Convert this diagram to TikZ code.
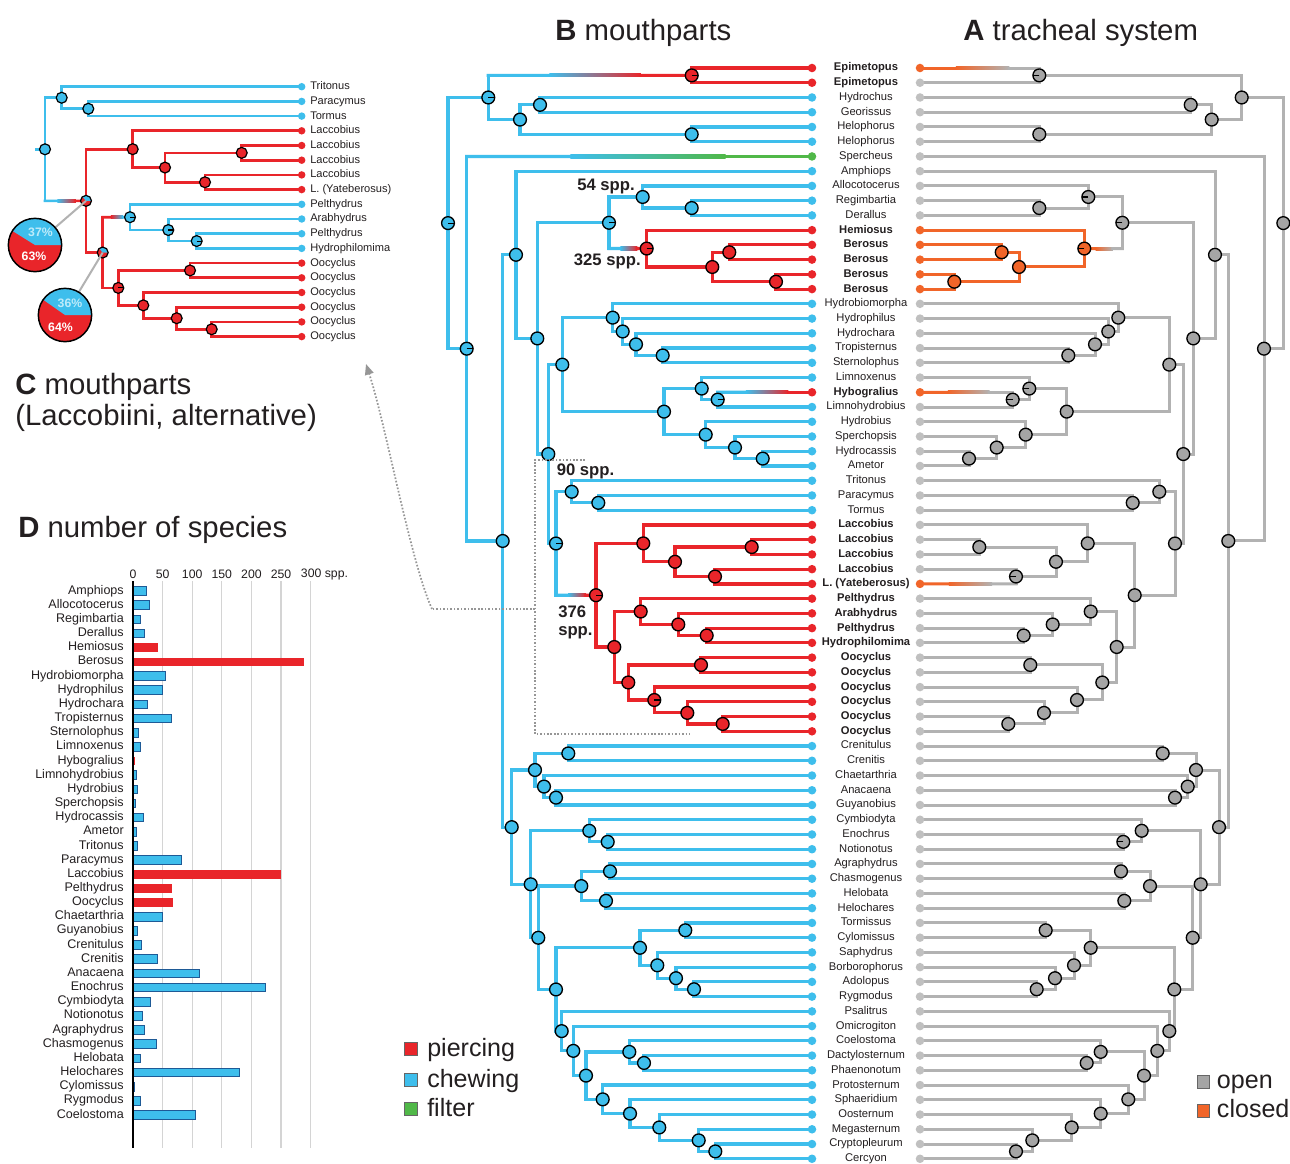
\documentclass[tikz,border=0pt]{standalone}
\usepackage{fontspec}
\setmainfont{Liberation Sans}
\usetikzlibrary{calc,arrows.meta}
\definecolor{cblue}{RGB}{62,190,236}
\definecolor{cred}{RGB}{233,37,42}
\definecolor{cgreen}{RGB}{80,184,72}
\definecolor{cgrey}{RGB}{178,178,178}
\definecolor{cgreyn}{RGB}{165,165,165}
\definecolor{cgreyl}{RGB}{192,192,192}
\definecolor{corange}{RGB}{241,101,41}
\definecolor{ctext}{RGB}{35,31,32}
\definecolor{cbarline}{RGB}{30,90,150}
\definecolor{cgrid}{RGB}{212,212,212}
\definecolor{cdot}{RGB}{150,150,150}
\definecolor{cpale}{RGB}{190,235,250}
\newcommand\IN[4]{%
  \coordinate (tmpm) at ($(#3)!0.5!(#4)$);
  \coordinate (tmpx) at (#2,0);
  \coordinate (#1) at (tmpx |- tmpm);}
\newcommand\INd[5]{\IN{#1}{#2}{#3}{#4}\draw[#5] (#3) -| (#1) |- (#4);}
\newcommand\VB[4]{\draw[#1] (#2 |- #3) -- (#2 |- #4);}
\newcommand\HB[3]{\draw[#1] (#2 |- #3) -- (#3);}
\newcommand\GSEG[6]{%
  \draw[#5,#3] (#1) -- ($(#1)!0.3!(#2)$);
  \shade[left color=#3,right color=#4] ($(#1)!0.3!(#2)+(0,#6)$) rectangle ($(#1)!0.75!(#2)+(0,-#6)$);
  \draw[#5,#4] ($(#1)!0.75!(#2)$) -- (#2);}
\def\leaflist{1/Epimetopus/1/cred/corange, 2/Epimetopus/1/cred/cgreyl, 3/Hydrochus/0/cblue/cgreyl,
 4/Georissus/0/cblue/cgreyl, 5/Helophorus/0/cblue/cgreyl, 6/Helophorus/0/cblue/cgreyl,
 7/Spercheus/0/cgreen/cgreyl, 8/Amphiops/0/cblue/cgreyl, 9/Allocotocerus/0/cblue/cgreyl,
 10/Regimbartia/0/cblue/cgreyl, 11/Derallus/0/cblue/cgreyl, 12/Hemiosus/1/cred/corange,
 13/Berosus/1/cred/corange, 14/Berosus/1/cred/corange, 15/Berosus/1/cred/corange, 16/Berosus/1/cred/corange,
 17/Hydrobiomorpha/0/cblue/cgreyl, 18/Hydrophilus/0/cblue/cgreyl, 19/Hydrochara/0/cblue/cgreyl,
 20/Tropisternus/0/cblue/cgreyl, 21/Sternolophus/0/cblue/cgreyl, 22/Limnoxenus/0/cblue/cgreyl,
 23/Hybogralius/1/cred/corange, 24/Limnohydrobius/0/cblue/cgreyl, 25/Hydrobius/0/cblue/cgreyl,
 26/Sperchopsis/0/cblue/cgreyl, 27/Hydrocassis/0/cblue/cgreyl, 28/Ametor/0/cblue/cgreyl,
 29/Tritonus/0/cblue/cgreyl, 30/Paracymus/0/cblue/cgreyl, 31/Tormus/0/cblue/cgreyl,
 32/Laccobius/1/cred/cgreyl, 33/Laccobius/1/cred/cgreyl, 34/Laccobius/1/cred/cgreyl, 35/Laccobius/1/cred/cgreyl,
 36/L. (Yateberosus)/1/cred/corange, 37/Pelthydrus/1/cred/cgreyl, 38/Arabhydrus/1/cred/cgreyl,
 39/Pelthydrus/1/cred/cgreyl, 40/Hydrophilomima/1/cred/cgreyl, 41/Oocyclus/1/cred/cgreyl,
 42/Oocyclus/1/cred/cgreyl, 43/Oocyclus/1/cred/cgreyl, 44/Oocyclus/1/cred/cgreyl, 45/Oocyclus/1/cred/cgreyl,
 46/Oocyclus/1/cred/cgreyl, 47/Crenitulus/0/cblue/cgreyl, 48/Crenitis/0/cblue/cgreyl,
 49/Chaetarthria/0/cblue/cgreyl, 50/Anacaena/0/cblue/cgreyl, 51/Guyanobius/0/cblue/cgreyl,
 52/Cymbiodyta/0/cblue/cgreyl, 53/Enochrus/0/cblue/cgreyl, 54/Notionotus/0/cblue/cgreyl,
 55/Agraphydrus/0/cblue/cgreyl, 56/Chasmogenus/0/cblue/cgreyl, 57/Helobata/0/cblue/cgreyl,
 58/Helochares/0/cblue/cgreyl, 59/Tormissus/0/cblue/cgreyl, 60/Cylomissus/0/cblue/cgreyl,
 61/Saphydrus/0/cblue/cgreyl, 62/Borborophorus/0/cblue/cgreyl, 63/Adolopus/0/cblue/cgreyl,
 64/Rygmodus/0/cblue/cgreyl, 65/Psalitrus/0/cblue/cgreyl, 66/Omicrogiton/0/cblue/cgreyl,
 67/Coelostoma/0/cblue/cgreyl, 68/Dactylosternum/0/cblue/cgreyl, 69/Phaenonotum/0/cblue/cgreyl,
 70/Protosternum/0/cblue/cgreyl, 71/Sphaeridium/0/cblue/cgreyl, 72/Oosternum/0/cblue/cgreyl,
 73/Megasternum/0/cblue/cgreyl, 74/Cryptopleurum/0/cblue/cgreyl, 75/Cercyon/0/cblue/cgreyl}
\def\clist{1/Tritonus/cblue, 2/Paracymus/cblue, 3/Tormus/cblue, 4/Laccobius/cred, 5/Laccobius/cred,
 6/Laccobius/cred, 7/Laccobius/cred, 8/L. (Yateberosus)/cred, 9/Pelthydrus/cblue, 10/Arabhydrus/cblue,
 11/Pelthydrus/cblue, 12/Hydrophilomima/cblue, 13/Oocyclus/cred, 14/Oocyclus/cred, 15/Oocyclus/cred,
 16/Oocyclus/cred, 17/Oocyclus/cred, 18/Oocyclus/cred}
\def\dlist{1/Amphiops/22.5/b, 2/Allocotocerus/28/b, 3/Regimbartia/12/b, 4/Derallus/18.6/b,
 5/Hemiosus/41.6/r, 6/Berosus/289/r, 7/Hydrobiomorpha/54.6/b, 8/Hydrophilus/49.5/b, 9/Hydrochara/24.2/b,
 10/Tropisternus/64.7/b, 11/Sternolophus/9/b, 12/Limnoxenus/12.4/b, 13/Hybogralius/3.4/r,
 14/Limnohydrobius/5/b, 15/Hydrobius/7.3/b, 16/Sperchopsis/3.4/b, 17/Hydrocassis/17.4/b,
 18/Ametor/6.2/b, 19/Tritonus/7.9/b, 20/Paracymus/82.2/b, 21/Laccobius/249.3/r, 22/Pelthydrus/65.3/r,
 23/Oocyclus/67.5/r, 24/Chaetarthria/49.5/b, 25/Guyanobius/6.8/b, 26/Crenitulus/14.6/b,
 27/Crenitis/41.6/b, 28/Anacaena/112/b, 29/Enochrus/224/b, 30/Cymbiodyta/29.8/b, 31/Notionotus/16.3/b,
 32/Agraphydrus/19.1/b, 33/Chasmogenus/39.4/b, 34/Helobata/12.4/b, 35/Helochares/179.5/b,
 36/Cylomissus/2.8/b, 37/Rygmodus/12.4/b, 38/Coelostoma/105.8/b}
\begin{document}
\begin{tikzpicture}[x=0.75pt,y=-0.75pt,
  lB/.style={line width=2.4pt,line cap=rect},
  lA/.style={line width=2.25pt,line cap=rect},
  lC/.style={line width=2pt,line cap=rect},
  nd/.style={circle,draw=black,line width=1pt,minimum size=9.6pt,inner sep=0pt},
  ndC/.style={circle,draw=black,line width=0.9pt,minimum size=8.2pt,inner sep=0pt},
  dR/.style={path picture={\draw[line width=0.8pt] (path picture bounding box.center) -- (path picture bounding box.east);}},
  dL/.style={path picture={\draw[line width=0.8pt] (path picture bounding box.center) -- (path picture bounding box.west);}},
  leaf/.style={circle,minimum size=6.4pt,inner sep=0pt},
  leafC/.style={circle,minimum size=5.6pt,inner sep=0pt},
  lab/.style={font=\fontsize{8.4}{10}\selectfont,text=ctext,inner sep=0pt,text height=6pt,text depth=1.6pt},
  labC/.style={font=\fontsize{8.3}{10}\selectfont,text=ctext,anchor=west,inner sep=0pt,text height=6pt,text depth=1.6pt},
  ttl/.style={font=\fontsize{22}{26}\selectfont,text=ctext,anchor=base west,inner sep=0pt},
  leg/.style={font=\fontsize{18.8}{22}\selectfont,text=ctext,anchor=base west,inner sep=0pt},
  spp/.style={font=\bfseries\fontsize{12.5}{14}\selectfont,text=ctext,inner sep=0pt},
  dlab/.style={font=\fontsize{9.4}{10}\selectfont,text=ctext,anchor=east,inner sep=0pt,text height=6.6pt,text depth=1.9pt},
  tick/.style={font=\fontsize{9.2}{10}\selectfont,text=ctext,inner sep=0pt},
  pct/.style={font=\bfseries\fontsize{9.2}{10}\selectfont,inner sep=0pt},
  sq/.style={minimum size=9.5pt,inner sep=0pt,draw=black!60,line width=0.5pt},
  barb/.style={fill=cblue,draw=cbarline,line width=0.6pt},
  barr/.style={fill=cred},
  dots/.style={cdot,line width=1.3pt,dash pattern=on 1.2pt off 1.4pt}]
\useasboundingbox (0,0) rectangle (1290,1164);
\fill[white] (0,0) rectangle (1290,1164);
% ---------- leaves and labels (trees A, B)
\foreach \i/\nm/\bb/\cb/\ca in \leaflist {
  \coordinate (b\i) at (812,{68+(\i-1)*14.74});
  \coordinate (a\i) at (920,{68+(\i-1)*14.74});
  \node[lab] (t\i) at (866,{68+(\i-1)*14.74}) {\ifnum\bb=1 \bfseries\fi\nm};
}
\foreach \i/\nm/\cc in \clist {
  \coordinate (c\i) at (301.7,{86.7+(\i-1)*14.7});
  \node[labC] (tc\i) at (310,{86.7+(\i-1)*14.7}) {\nm};
}
% ---------- tree B (mouthparts)
\INd{BE}{691.7}{b1}{b2}{lB,cred}
\INd{BHG}{540}{b3}{b4}{lB,cblue}
\INd{BHe}{691.7}{b5}{b6}{lB,cblue}
\INd{BHGH}{520}{BHG}{BHe}{lB,cblue}
\IN{BTop}{488.3}{BE}{BHGH}
\VB{lB,cblue}{BTop}{BE}{BHGH}
\HB{lB,cblue}{BTop}{BHGH}
\coordinate (g1) at (BTop |- BE);
\GSEG{g1}{BE}{cblue}{cred}{lB}{1.6}
\INd{BRD}{691.7}{b10}{b11}{lB,cblue}
\INd{BAl}{642.7}{b9}{BRD}{lB,cblue}
\INd{BB3}{729.3}{b13}{b14}{lB,cred}
\INd{BB4}{776}{b15}{b16}{lB,cred}
\INd{BB2}{712.3}{BB3}{BB4}{lB,cred}
\INd{BBe}{646.7}{b12}{BB2}{lB,cred}
\IN{BBG}{609}{BAl}{BBe}
\VB{lB,cblue}{BBG}{BAl}{BBe}
\HB{lB,cblue}{BBG}{BAl}
\coordinate (g2) at (BBG |- BBe);
\GSEG{g2}{BBe}{cblue}{cred}{lB}{1.6}
\INd{BTr}{662.7}{b20}{b21}{lB,cblue}
\INd{BCh}{636}{b19}{BTr}{lB,cblue}
\INd{BHp}{622.7}{b18}{BCh}{lB,cblue}
\INd{BHm}{612.7}{b17}{BHp}{lB,cblue}
\IN{BHy}{717.7}{b23}{b24}
\VB{lB,cblue}{BHy}{b23}{b24}
\HB{lB,cblue}{BHy}{b24}
\coordinate (g3) at (BHy |- b23);
\GSEG{g3}{b23}{cblue}{cred}{lB}{1.6}
\INd{BLx}{701.7}{b22}{BHy}{lB,cblue}
\INd{BHc}{762.7}{b27}{b28}{lB,cblue}
\INd{BSp}{735}{b26}{BHc}{lB,cblue}
\INd{BHb}{705.7}{b25}{BSp}{lB,cblue}
\INd{BLH}{664}{BLx}{BHb}{lB,cblue}
\INd{BHyd}{562.3}{BHm}{BLH}{lB,cblue}
\INd{BPT}{598.3}{b30}{b31}{lB,cblue}
\INd{BTri}{571.7}{b29}{BPT}{lB,cblue}
\INd{BL34}{751.7}{b33}{b34}{lB,cred}
\INd{BL5Y}{715}{b35}{b36}{lB,cred}
\INd{BL2}{675}{BL34}{BL5Y}{lB,cred}
\INd{BLac}{643.3}{b32}{BL2}{lB,cred}
\INd{BP4}{706.7}{b39}{b40}{lB,cred}
\INd{BP3}{678.3}{b38}{BP4}{lB,cred}
\INd{BPe}{640.7}{b37}{BP3}{lB,cred}
\INd{BO12}{701}{b41}{b42}{lB,cred}
\INd{BO56}{722.7}{b45}{b46}{lB,cred}
\INd{BO4}{687.3}{b44}{BO56}{lB,cred}
\INd{BO3}{654.3}{b43}{BO4}{lB,cred}
\INd{BOo}{628.3}{BO12}{BO3}{lB,cred}
\INd{BPO}{614.3}{BPe}{BOo}{lB,cred}
\INd{BLc}{596}{BLac}{BPO}{lB,cred}
\IN{BTL}{556}{BTri}{BLc}
\VB{lB,cblue}{BTL}{BTri}{BLc}
\HB{lB,cblue}{BTL}{BTri}
\coordinate (g4) at (BTL |- BLc);
\GSEG{g4}{BLc}{cblue}{cred}{lB}{1.6}
\INd{BW}{548.3}{BHyd}{BTL}{lB,cblue}
\INd{BZ}{537.3}{BBG}{BW}{lB,cblue}
\INd{BY}{516}{b8}{BZ}{lB,cblue}
\INd{BCC}{568.3}{b47}{b48}{lB,cblue}
\INd{BAG}{556}{b50}{b51}{lB,cblue}
\INd{BCA}{544}{b49}{BAG}{lB,cblue}
\INd{BAn}{535}{BCC}{BCA}{lB,cblue}
\INd{BEN}{607.7}{b53}{b54}{lB,cblue}
\INd{BEn}{589.3}{b52}{BEN}{lB,cblue}
\INd{BAC}{610}{b55}{b56}{lB,cblue}
\INd{BHH}{606}{b57}{b58}{lB,cblue}
\INd{BAgr}{581.3}{BAC}{BHH}{lB,cblue}
\INd{BTC}{685.3}{b59}{b60}{lB,cblue}
\INd{BAR}{694}{b63}{b64}{lB,cblue}
\INd{BBR}{676}{b62}{BAR}{lB,cblue}
\INd{BSa}{657.3}{b61}{BBR}{lB,cblue}
\INd{BTo}{640}{BTC}{BSa}{lB,cblue}
\INd{BDP}{644}{b68}{b69}{lB,cblue}
\INd{BCo}{629.3}{b67}{BDP}{lB,cblue}
\INd{BCC2}{715.3}{b74}{b75}{lB,cblue}
\INd{BMe}{698.7}{b73}{BCC2}{lB,cblue}
\INd{BOs}{659.3}{b72}{BMe}{lB,cblue}
\INd{BSph}{630}{b71}{BOs}{lB,cblue}
\INd{BPr}{602.7}{b70}{BSph}{lB,cblue}
\INd{BS1}{586}{BCo}{BPr}{lB,cblue}
\INd{BS2}{573.3}{b66}{BS1}{lB,cblue}
\INd{BS3}{561.7}{b65}{BS2}{lB,cblue}
\INd{BS4}{556}{BTo}{BS3}{lB,cblue}
\INd{BS5}{538.3}{BAgr}{BS4}{lB,cblue}
\INd{BS6}{530.7}{BEn}{BS5}{lB,cblue}
\INd{BLow}{511.7}{BAn}{BS6}{lB,cblue}
\INd{BX}{502.7}{BY}{BLow}{lB,cblue}
\IN{BRest}{466.7}{b7}{BX}
\VB{lB,cblue}{BRest}{b7}{BX}
\HB{lB,cblue}{BRest}{BX}
\coordinate (g5) at (BRest |- b7);
\GSEG{g5}{b7}{cblue}{cgreen}{lB}{1.6}
\INd{BRoot}{448}{BTop}{BRest}{lB,cblue}
% ---------- tree A (tracheal system)
\IN{AE}{1039.3}{a1}{a2}
\VB{lA,cgrey}{AE}{a1}{a2}
\HB{lA,cgrey}{AE}{a2}
\coordinate (g6) at (AE |- a1);
\GSEG{a1}{g6}{corange}{cgrey}{lA}{1.5}
\INd{AHG}{1190.7}{a3}{a4}{lA,cgrey}
\INd{AHe}{1039.3}{a5}{a6}{lA,cgrey}
\INd{AHGH}{1211.7}{AHG}{AHe}{lA,cgrey}
\INd{ATop}{1241.7}{AE}{AHGH}{lA,cgrey}
\INd{ARD}{1039.3}{a10}{a11}{lA,cgrey}
\INd{AAl}{1088.3}{a9}{ARD}{lA,cgrey}
\INd{AB3}{1001.7}{a13}{a14}{lA,corange}
\INd{AB4}{954.3}{a15}{a16}{lA,corange}
\INd{AB2}{1019}{AB3}{AB4}{lA,corange}
\INd{ABe}{1084.3}{a12}{AB2}{lA,corange}
\IN{ABG}{1122.3}{AAl}{ABe}
\VB{lA,cgrey}{ABG}{AAl}{ABe}
\HB{lA,cgrey}{ABG}{AAl}
\coordinate (g7) at (ABG |- ABe);
\GSEG{ABe}{g7}{corange}{cgrey}{lA}{1.5}
\INd{ATr}{1068.3}{a20}{a21}{lA,cgrey}
\INd{ACh}{1095}{a19}{ATr}{lA,cgrey}
\INd{AHp}{1108.3}{a18}{ACh}{lA,cgrey}
\INd{AHm}{1118.3}{a17}{AHp}{lA,cgrey}
\IN{AHy}{1012.7}{a23}{a24}
\VB{lA,cgrey}{AHy}{a23}{a24}
\HB{lA,cgrey}{AHy}{a24}
\coordinate (g8) at (AHy |- a23);
\GSEG{a23}{g8}{corange}{cgrey}{lA}{1.5}
\INd{ALx}{1029.3}{a22}{AHy}{lA,cgrey}
\INd{AHc}{969}{a27}{a28}{lA,cgrey}
\INd{ASp}{996.7}{a26}{AHc}{lA,cgrey}
\INd{AHb}{1025.7}{a25}{ASp}{lA,cgrey}
\INd{ALH}{1066.7}{ALx}{AHb}{lA,cgrey}
\INd{AHyd}{1169.3}{AHm}{ALH}{lA,cgrey}
\INd{APT}{1132.7}{a30}{a31}{lA,cgrey}
\INd{ATri}{1159.3}{a29}{APT}{lA,cgrey}
\INd{AL34}{979.3}{a33}{a34}{lA,cgrey}
\IN{AL5Y}{1016}{a35}{a36}
\VB{lA,cgrey}{AL5Y}{a35}{a36}
\HB{lA,cgrey}{AL5Y}{a35}
\coordinate (g9) at (AL5Y |- a36);
\GSEG{a36}{g9}{corange}{cgrey}{lA}{1.5}
\INd{AL2}{1056}{AL34}{AL5Y}{lA,cgrey}
\INd{ALac}{1087.7}{a32}{AL2}{lA,cgrey}
\INd{AP4}{1023.7}{a39}{a40}{lA,cgrey}
\INd{AP3}{1052.7}{a38}{AP4}{lA,cgrey}
\INd{APe}{1090.7}{a37}{AP3}{lA,cgrey}
\INd{AO12}{1030.3}{a41}{a42}{lA,cgrey}
\INd{AO56}{1008.3}{a45}{a46}{lA,cgrey}
\INd{AO4}{1044}{a44}{AO56}{lA,cgrey}
\INd{AO3}{1077}{a43}{AO4}{lA,cgrey}
\INd{AOo}{1102.3}{AO12}{AO3}{lA,cgrey}
\INd{APO}{1116.7}{APe}{AOo}{lA,cgrey}
\INd{ALc}{1134.7}{ALac}{APO}{lA,cgrey}
\INd{ATL}{1175}{ATri}{ALc}{lA,cgrey}
\INd{AW}{1183.3}{AHyd}{ATL}{lA,cgrey}
\INd{AZ}{1193.3}{ABG}{AW}{lA,cgrey}
\INd{AY}{1215}{a8}{AZ}{lA,cgrey}
\INd{ACC}{1162.7}{a47}{a48}{lA,cgrey}
\INd{AAG}{1175}{a50}{a51}{lA,cgrey}
\INd{ACA}{1187.7}{a49}{AAG}{lA,cgrey}
\INd{AAn}{1196}{ACC}{ACA}{lA,cgrey}
\INd{AEN}{1123.3}{a53}{a54}{lA,cgrey}
\INd{AEn}{1141.7}{a52}{AEN}{lA,cgrey}
\INd{AAC}{1121}{a55}{a56}{lA,cgrey}
\INd{AHH}{1124.3}{a57}{a58}{lA,cgrey}
\INd{AAgr}{1150}{AAC}{AHH}{lA,cgrey}
\INd{ATC}{1045.7}{a59}{a60}{lA,cgrey}
\INd{AAR}{1036.7}{a63}{a64}{lA,cgrey}
\INd{ABR}{1055}{a62}{AAR}{lA,cgrey}
\INd{ASa}{1074}{a61}{ABR}{lA,cgrey}
\INd{ATo}{1090.7}{ATC}{ASa}{lA,cgrey}
\INd{ADP}{1086.7}{a68}{a69}{lA,cgrey}
\INd{ACo}{1100.7}{a67}{ADP}{lA,cgrey}
\INd{ACC2}{1016}{a74}{a75}{lA,cgrey}
\INd{AMe}{1032.3}{a73}{ACC2}{lA,cgrey}
\INd{AOs}{1071.7}{a72}{AMe}{lA,cgrey}
\INd{ASph}{1100.7}{a71}{AOs}{lA,cgrey}
\INd{APr}{1128.3}{a70}{ASph}{lA,cgrey}
\INd{AS1}{1144}{ACo}{APr}{lA,cgrey}
\INd{AS2}{1157.3}{a66}{AS1}{lA,cgrey}
\INd{AS3}{1169.3}{a65}{AS2}{lA,cgrey}
\INd{AS4}{1174.3}{ATo}{AS3}{lA,cgrey}
\INd{AS5}{1192.7}{AAgr}{AS4}{lA,cgrey}
\INd{AS6}{1200.7}{AEn}{AS5}{lA,cgrey}
\INd{ALow}{1219}{AAn}{AS6}{lA,cgrey}
\INd{AX}{1228.3}{AY}{ALow}{lA,cgrey}
\INd{ARest}{1264}{a7}{AX}{lA,cgrey}
\INd{ARoot}{1283.3}{ATop}{ARest}{lA,cgrey}
% ---------- tree C (Laccobiini alternative)
\INd{CPT}{88.3}{c2}{c3}{lC,cblue}
\INd{CTr}{61.7}{c1}{CPT}{lC,cblue}
\INd{CL56}{241.7}{c5}{c6}{lC,cred}
\INd{CL7Y}{205}{c7}{c8}{lC,cred}
\INd{CL2}{165}{CL56}{CL7Y}{lC,cred}
\INd{CLac}{132.7}{c4}{CL2}{lC,cred}
\INd{CP4}{196.7}{c11}{c12}{lC,cblue}
\INd{CP3}{168.3}{c10}{CP4}{lC,cblue}
\INd{CPe}{130}{c9}{CP3}{lC,cblue}
\INd{CO12}{190}{c13}{c14}{lC,cred}
\INd{CO56}{211.7}{c17}{c18}{lC,cred}
\INd{CO4}{176.7}{c16}{CO56}{lC,cred}
\INd{CO3}{143.3}{c15}{CO4}{lC,cred}
\INd{COo}{118.3}{CO12}{CO3}{lC,cred}
\IN{CPO}{102.7}{CPe}{COo}
\VB{lC,cred}{CPO}{CPe}{COo}
\HB{lC,cred}{CPO}{COo}
\coordinate (g10) at (CPO |- CPe);
\GSEG{g10}{CPe}{cred}{cblue}{lC}{1.33}
\INd{CLc}{86}{CLac}{CPO}{lC,cred}
\IN{CRoot}{45}{CTr}{CLc}
\VB{lC,cblue}{CRoot}{CTr}{CLc}
\HB{lC,cblue}{CRoot}{CTr}
\coordinate (g11) at (CRoot |- CLc);
\GSEG{g11}{CLc}{cblue}{cred}{lC}{1.33}
\coordinate (Cstub) at ($(CRoot)+(-9,0)$);
\draw[lC,cblue] (Cstub) -- (CRoot);
% ---------- node circles
\foreach \n in {BHG,BHe,BHGH,BRD,BAl,BTr,BCh,BHp,BHm,BLx,BHc,BSp,BHb,BLH,BHyd,BPT,BTri,BW,BZ,BY,BCC,BAG,BCA,BAn,BEN,BEn,BAC,BHH,BAgr,BTC,BAR,BBR,BSa,BTo,BDP,BCo,BCC2,BMe,BOs,BSph,BPr,BS1,BS2,BS3,BS4,BS5,BS6,BLow,BX}
  \node[nd,fill=cblue] (k\n) at (\n) {};
\foreach \n in {BTop,BBG,BHy,BTL,BRest,BRoot}
  \node[nd,fill=cblue,dR] (k\n) at (\n) {};
\foreach \n in {BB3,BB4,BB2,BL34,BL5Y,BL2,BLac,BP4,BP3,BPe,BO12,BO56,BO4,BOo,BPO}
  \node[nd,fill=cred] (k\n) at (\n) {};
\foreach \n in {BE,BBe,BLc,BO3}
  \node[nd,fill=cred,dR] (k\n) at (\n) {};
\foreach \n in {AHG,AHe,AHGH,ATop,ARD,ATr,ACh,AHp,AHm,AHc,ASp,AHb,ALH,AHyd,APT,ATri,AL34,AL2,ALac,AP4,AP3,APe,AO12,AO56,AO4,AO3,AOo,APO,ALc,ATL,AW,AZ,AY,ACC,AAG,ACA,AAn,AEn,AAC,AHH,AAgr,ATC,AAR,ABR,ASa,ATo,ADP,ACo,ACC2,AMe,AOs,ASph,APr,AS1,AS2,AS3,AS4,AS5,AS6,ALow,AX,ARest,ARoot}
  \node[nd,fill=cgreyn] (k\n) at (\n) {};
\foreach \n in {AE,AAl,ABG,AHy,ALx,AL5Y,AEN}
  \node[nd,fill=cgreyn,dL] (k\n) at (\n) {};
\foreach \n in {AB3,AB4,AB2}
  \node[nd,fill=corange] (k\n) at (\n) {};
\node[nd,fill=corange,dL] (kABe) at (ABe) {};
\foreach \n in {CPT,CTr,CRoot}
  \node[ndC,fill=cblue] (k\n) at (\n) {};
\foreach \n in {CPe,CP3,CP4}
  \node[ndC,fill=cblue,dR] (k\n) at (\n) {};
\foreach \n in {CL56,CL7Y,CL2,CLac,CO12,CO56,CO4,CO3}
  \node[ndC,fill=cred] (k\n) at (\n) {};
\node[ndC,fill=cred,dR] (kCOo) at (COo) {};
\foreach \n in {CLc,CPO} {
  \fill[cred] (\n) circle[radius=4.1pt];
  \fill[cblue] (\n) -- ++(0:4.1pt) arc[start angle=0,end angle=133,radius=4.1pt] -- cycle;
  \draw[line width=0.9pt] (\n) circle[radius=4.1pt];
}
% ---------- leaf dots
\foreach \i/\nm/\bb/\cb/\ca in \leaflist {
  \node[leaf,fill=\cb] (lb\i) at (b\i) {};
  \node[leaf,fill=\ca] (la\i) at (a\i) {};
}
\foreach \i/\nm/\cc in \clist
  \node[leafC,fill=\cc] (lc\i) at (c\i) {};
% ---------- big pies of panel C
\coordinate (P1) at (35,245);
\coordinate (P2) at (65,315);
\draw[line width=1.5pt,cgrey] (P1) -- (CLc);
\draw[line width=1.5pt,cgrey] (P2) -- (CPO);
\fill[cred] (P1) circle[radius=20pt];
\fill[cblue] (P1) -- ++(0:20pt) arc[start angle=0,end angle=148,radius=20pt] -- cycle;
\draw[line width=1.1pt] (P1) circle[radius=20pt];
\fill[cred] (P2) circle[radius=20pt];
\fill[cblue] (P2) -- ++(0:20pt) arc[start angle=0,end angle=145,radius=20pt] -- cycle;
\draw[line width=1.1pt] (P2) circle[radius=20pt];
\node[pct,text=cpale] (p1t) at (40.5,232.5) {37\%};
\node[pct,text=white] (p1b) at (34,256.7) {63\%};
\node[pct,text=cpale] (p2t) at (70,303) {36\%};
\node[pct,text=white] (p2b) at (60.5,327.5) {64\%};
% ---------- species counts on tree B
\node[spp] (s54) at (606,186.7) {54 spp.};
\node[spp] (s325) at (607.3,261.7) {325 spp.};
\node[spp] (s90) at (585.5,471.7) {90 spp.};
\node[spp,anchor=west] (s376) at (558,611.7) {376};
\node[spp,anchor=west] (s376b) at (558,632.3) {spp.};
% ---------- dotted bracket and arrow to panel C
\coordinate (dq0) at (585,460);
\coordinate (dq1) at (535,460);
\coordinate (dq2) at (535,734.3);
\coordinate (dq3) at (689.3,734.3);
\coordinate (dq4) at (535,609);
\coordinate (dq5) at (432,609);
\coordinate (dq6) at (366,364);
\coordinate (dk1) at (410,560);
\coordinate (dk2) at (386,425);
\draw[dots] (dq0) -- (dq1) -- (dq2) -- (dq3);
\draw[dots] (dq4) -- (dq5);
\draw[dots,-{Triangle[length=8pt,width=6.5pt]}] (dq5) .. controls (dk1) and (dk2) .. (dq6);
% ---------- titles
\node[ttl] (tB) at (555,40.5) {\textbf{B} mouthparts};
\node[ttl] (tA) at (963,40.5) {\textbf{A} tracheal system};
\node[ttl] (tC1) at (15,394.5) {\textbf{C} mouthparts};
\node[ttl] (tC2) at (15,425.5) {(Laccobiini, alternative)};
\node[ttl] (tD) at (18,537.5) {\textbf{D} number of species};
% ---------- legends
\node[sq,fill=cred] (sqp) at (411,1049) {};
\node[leg] (lp) at (427,1056.7) {piercing};
\node[sq,fill=cblue] (sqc) at (411,1080) {};
\node[leg] (lc) at (427,1087.7) {chewing};
\node[sq,fill=cgreen] (sqf) at (411,1109) {};
\node[leg] (lf) at (427,1116.7) {filter};
\node[sq,fill=cgreyn] (sqo) at (1203.3,1081.7) {};
\node[leg] (lo) at (1216.7,1088.5) {open};
\node[sq,fill=corange] (sqcl) at (1203.3,1110.5) {};
\node[leg] (lcl) at (1216.7,1117) {closed};
% ---------- panel D bar chart
\foreach \t in {50,100,150,200,250,300}
  \draw[cgrid,line width=1pt] ({133+\t*0.5922},581) -- ({133+\t*0.5922},1148);
\foreach \t in {0,50,100,150,200,250}
  \node[tick] (tk\t) at ({133+\t*0.5922},574) {\t};
\node[tick,anchor=west] (tk300) at (300.7,574) {300 spp.};
\foreach \k/\nm/\v/\c in \dlist {
  \pgfmathsetmacro\yy{591+(\k-1)*14.16}
  \pgfmathsetmacro\xx{133+\v*0.5922}
  \node[dlab] (dl\k) at (124,\yy) {\nm};
  \path[bar\c] (133,{\yy-4.3}) rectangle (\xx,{\yy+4.3});
}
\draw[black,line width=1.4pt] (133,581) -- (133,1148);
\end{tikzpicture}
\end{document}
